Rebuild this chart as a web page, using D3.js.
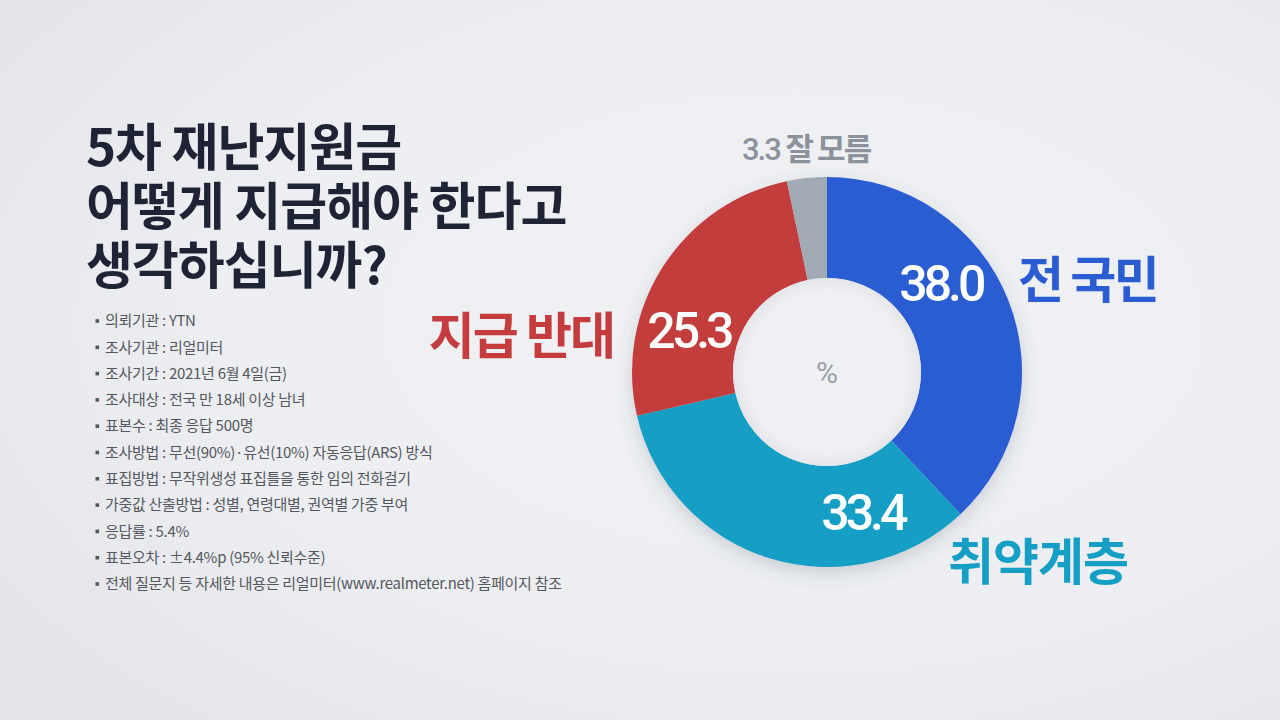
<!DOCTYPE html>
<html>
<head>
<meta charset="utf-8">
<script src="https://cdn.jsdelivr.net/npm/d3@7/dist/d3.min.js"></script>
<style>
  html, body { margin: 0; padding: 0; width: 1280px; height: 720px; overflow: hidden; }
  svg { display: block; }
</style>
</head>
<body>
<svg id="chart" width="1280" height="720"></svg>
<script>
// ---- data ----
const categories = ["전 국민", "취약계층", "지급 반대", "잘 모름"];
const values = [38.0, 33.4, 25.3, 3.3];
const valueLabels = ["38.0", "33.4", "25.3", "3.3"];
const titleLines = ["5차 재난지원금", "어떻게 지급해야 한다고", "생각하십니까?"];
const notes = [
  "의뢰기관 : YTN",
  "조사기관 : 리얼미터",
  "조사기간 : 2021년 6월 4일(금)",
  "조사대상 : 전국 만 18세 이상 남녀",
  "표본수 : 최종 응답 500명",
  "조사방법 : 무선(90%)·유선(10%) 자동응답(ARS) 방식",
  "표집방법 : 무작위생성 표집틀을 통한 임의 전화걸기",
  "가중값 산출방법 : 성별, 연령대별, 권역별 가중 부여",
  "응답률 : 5.4%",
  "표본오차 : ±4.4%p (95% 신뢰수준)",
  "전체 질문지 등 자세한 내용은 리얼미터(www.realmeter.net) 홈페이지 참조"
];
const unitLabel = "%";

// ---- styles ----
const colors = ["#2b5cd2", "#159fc5", "#c43c3e", "#a1aab4"];
const labelColors = ["#2b5cd2", "#159fc5", "#c43c3e", "#8b929b"];
const KFONT = "'Noto Sans CJK KR', 'Noto Sans', sans-serif";
const NFONT = "Roboto, 'Noto Sans', sans-serif";

const svg = d3.select("#chart");
const defs = svg.append("defs");

const bg = defs.append("radialGradient").attr("id", "bg")
  .attr("cx", "0.62").attr("cy", "0.45").attr("r", "0.75");
bg.append("stop").attr("offset", "0").attr("stop-color", "#f1f2f4");
bg.append("stop").attr("offset", "0.6").attr("stop-color", "#eceef1");
bg.append("stop").attr("offset", "1").attr("stop-color", "#e3e5e8");
svg.append("rect").attr("width", 1280).attr("height", 720).attr("fill", "url(#bg)");

const sh = defs.append("filter").attr("id", "shadow")
  .attr("x", "-20%").attr("y", "-20%").attr("width", "140%").attr("height", "140%");
sh.append("feDropShadow").attr("dx", 0).attr("dy", 6).attr("stdDeviation", 9)
  .attr("flood-color", "#50586a").attr("flood-opacity", 0.22);

// ---- title (one text block, one tspan per line) ----
const title = svg.append("text").attr("font-family", KFONT).attr("font-weight", 700)
  .attr("fill", "#1f2336").attr("font-size", 51).attr("letter-spacing", -1)
  .attr("x", 86).attr("y", 166);
title.selectAll("tspan").data(titleLines).join("tspan")
  .attr("x", 86).attr("y", (d, i) => 166 + i * 59).text(d => d);

// ---- notes ----
const noteG = svg.append("g").attr("font-family", KFONT).attr("font-size", 15)
  .attr("fill", "#54575e").attr("letter-spacing", -0.3);
const nRow = noteG.selectAll("g").data(notes).join("g")
  .attr("transform", (d, i) => `translate(0, ${321 + i * 26.3})`);
nRow.append("rect").attr("x", 95.5).attr("y", -1.8).attr("width", 3.6).attr("height", 3.6)
  .attr("fill", "#54575e");
nRow.append("text").attr("x", 105).attr("dy", "0.35em").text(d => d);

// ---- donut ----
const cx = 827, cy = 372, rOuter = 195, rInner = 94;
const pie = d3.pie().sort(null).value(d => d);
const arcs = pie(values);
const arc = d3.arc().innerRadius(rInner).outerRadius(rOuter);
const g = svg.append("g").attr("transform", `translate(${cx},${cy})`);
g.append("g").attr("filter", "url(#shadow)")
  .selectAll("path").data(arcs).join("path")
  .attr("d", arc).attr("fill", (d, i) => colors[i]);

// inner hole subtle shading
const hole = defs.append("radialGradient").attr("id", "hole");
hole.append("stop").attr("offset", "0.85").attr("stop-color", "#eff0f3");
hole.append("stop").attr("offset", "1").attr("stop-color", "#e4e6ea");
g.append("circle").attr("r", rInner).attr("fill", "url(#hole)");

g.append("text").attr("text-anchor", "middle").attr("dy", "0.35em")
  .attr("font-family", NFONT).attr("font-size", 30).attr("fill", "#9a9fa6")
  .text(unitLabel);

// value labels inside slices (position along slice as fraction)
const labelFrac = [0.38, 0.24, 0.33];
const rMid = (rInner + rOuter) / 2;
arcs.slice(0, 3).forEach((a, i) => {
  const ang = a.startAngle + (a.endAngle - a.startAngle) * labelFrac[i];
  g.append("text")
    .attr("x", Math.sin(ang) * rMid).attr("y", -Math.cos(ang) * rMid)
    .attr("text-anchor", "middle").attr("dy", "0.36em")
    .attr("font-family", NFONT).attr("font-size", 50).attr("font-weight", 500)
    .attr("letter-spacing", -4).attr("fill", "#ffffff")
    .text(valueLabels[i]);
});

// category labels outside
const cat = svg.append("g").attr("font-family", KFONT).attr("font-weight", 700);
cat.append("text").attr("x", 1018).attr("y", 298).attr("font-size", 50)
  .attr("letter-spacing", -2.5).attr("fill", labelColors[0]).text(categories[0]);
cat.append("text").attr("x", 948).attr("y", 580).attr("font-size", 50)
  .attr("letter-spacing", -1).attr("fill", labelColors[1]).text(categories[1]);
cat.append("text").attr("x", 614).attr("y", 354).attr("text-anchor", "end").attr("font-size", 50)
  .attr("letter-spacing", -2).attr("fill", labelColors[2]).text(categories[2]);
const dk = svg.append("text").attr("x", 742).attr("y", 160)
  .attr("font-weight", 700).attr("font-size", 31).attr("fill", labelColors[3])
  .attr("letter-spacing", -2);
dk.append("tspan").attr("font-family", NFONT).attr("font-weight", 500).text(valueLabels[3] + " ");
dk.append("tspan").attr("font-family", KFONT).text(categories[3]);
</script>
</body>
</html>
